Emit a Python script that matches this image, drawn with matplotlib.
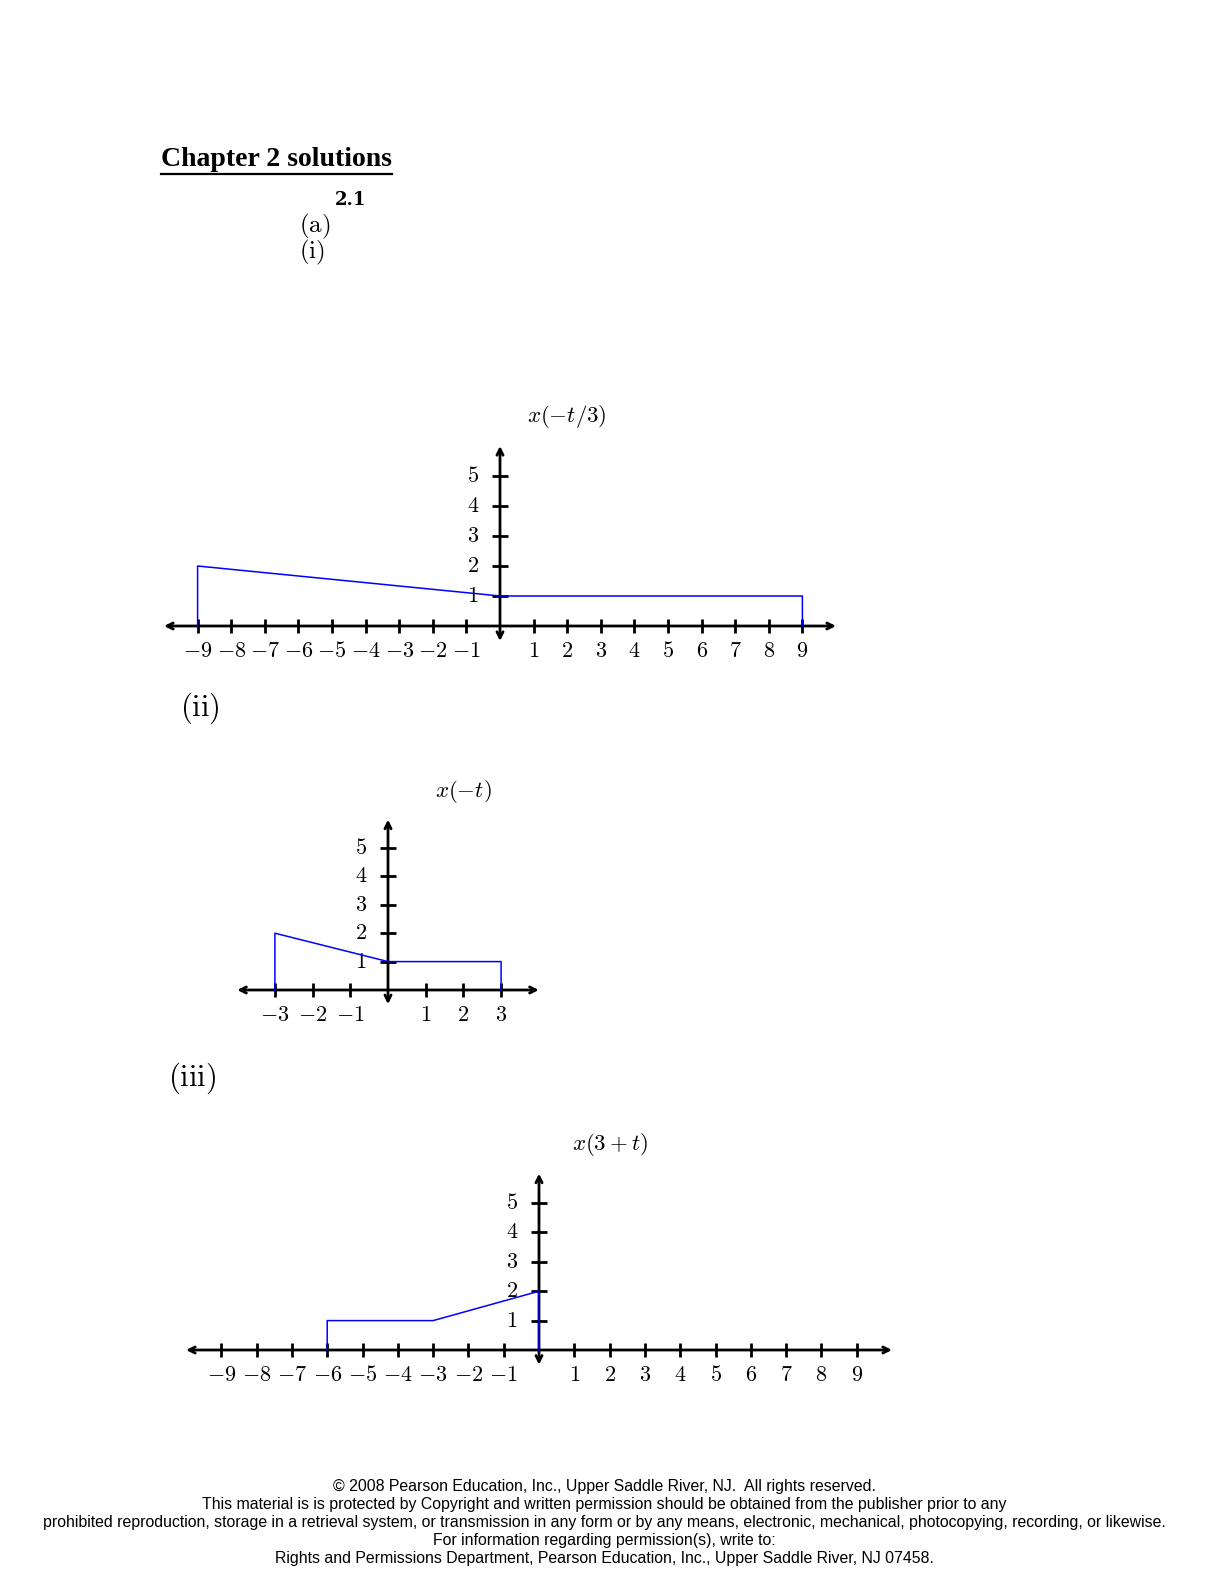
import numpy as np
import matplotlib.pyplot as plt
from matplotlib.lines import Line2D

plt.rcParams['mathtext.fontset'] = 'cm'

W, H = 1224, 1584

# x(-t/3)
t1 = [-9, -9, 0, 9, 9]
y1 = [0, 2, 1, 1, 0]
xt1 = [-9, -8, -7, -6, -5, -4, -3, -2, -1, 1, 2, 3, 4, 5, 6, 7, 8, 9]
# x(-t)
t2 = [-3, -3, 0, 3, 3]
y2 = [0, 2, 1, 1, 0]
xt2 = [-3, -2, -1, 1, 2, 3]
# x(3+t)
t3 = [-6, -6, -3, 0, 0]
y3 = [0, 1, 1, 2, 0]
xt3 = [-9, -8, -7, -6, -5, -4, -3, -2, -1, 1, 2, 3, 4, 5, 6, 7, 8, 9]
yt = [1, 2, 3, 4, 5]

footer = [
    '\u00a9 2008 Pearson Education, Inc., Upper Saddle River, NJ.  All rights reserved.',
    'This material is is protected by Copyright and written permission should be obtained from the publisher prior to any',
    'prohibited reproduction, storage in a retrieval system, or transmission in any form or by any means, electronic, mechanical, photocopying, recording, or likewise.',
    'For information regarding permission(s), write to:',
    'Rights and Permissions Department, Pearson Education, Inc., Upper Saddle River, NJ 07458.',
]

fig = plt.figure(figsize=(W / 100, H / 100), dpi=100)


def make_ax(ox, oy, ux, uy, xlim, ylim):
    left = (ox + xlim[0] * ux) / W
    width = (xlim[1] - xlim[0]) * ux / W
    bottom = 1 - (oy - ylim[0] * uy) / H
    height = (ylim[1] - ylim[0]) * uy / H
    ax = fig.add_axes([left, bottom, width, height])
    ax.set_xlim(xlim)
    ax.set_ylim(ylim)
    ax.axis('off')
    return ax


def draw(ax, ux, uy, t, y, xticks, xr, title):
    arr = dict(arrowstyle='<->', lw=2, color='k', shrinkA=0, shrinkB=0, mutation_scale=11)
    ax.annotate('', xy=(xr, 0), xytext=(-xr, 0), arrowprops=arr)
    ax.annotate('', xy=(0, 6), xytext=(0, -0.5), arrowprops=arr)
    ax.vlines(xticks, -7 / uy, 7 / uy, color='k', lw=2)
    ax.hlines(yt, -8 / ux, 8 / ux, color='k', lw=2)
    for x in xticks:
        ax.text(x, -25 / uy, '$%d$' % x, ha='center', va='center', fontsize=16)
    for v in yt:
        ax.text(-27 / ux, v, '$%d$' % v, ha='center', va='center', fontsize=16)
    ax.plot(t, y, color='#0000ff', lw=1.1, zorder=5)
    ax.text(2, 7, title, ha='center', va='center', fontsize=16.5)


ax1 = make_ax(500, 626, 33.6, 30, (-10.5, 10.5), (-1.5, 7.5))
draw(ax1, 33.6, 30, t1, y1, xt1, 10, r'$x(-t/3)$')

ax2 = make_ax(388, 990, 37.7, 28.4, (-4.5, 4.5), (-1.5, 7.5))
draw(ax2, 37.7, 28.4, t2, y2, xt2, 4, r'$x(-t)$')

ax3 = make_ax(539, 1350, 35.3, 29.4, (-10.5, 10.5), (-1.5, 7.5))
draw(ax3, 35.3, 29.4, t3, y3, xt3, 10, r'$x(3+t)$')

# header text
head = fig.text(161 / W, 1 - 160 / H, 'Chapter 2 solutions', family='Liberation Serif',
                weight='bold', fontsize=20, va='center', ha='left')
fig.text(335 / W, 1 - 200 / H, '2.1', family='DejaVu Serif', weight='bold',
         fontsize=13, va='center', ha='left')
fig.text(299 / W, 1 - 226 / H, r'$\mathrm{(a)}$', fontsize=18, va='center', ha='left')
fig.text(299 / W, 1 - 252 / H, r'$\mathrm{(i)}$', fontsize=18, va='center', ha='left')
fig.text(180 / W, 1 - 708 / H, r'$\mathrm{(ii)}$', fontsize=22, va='center', ha='left')
fig.text(168 / W, 1 - 1078 / H, r'$\mathrm{(iii)}$', fontsize=22, va='center', ha='left')

for i, line in enumerate(footer):
    fig.text(604 / W, 1 - (1487 + 18 * i) / H, line, family='Liberation Sans',
             fontsize=11.4, ha='center', va='center')

# underline the chapter heading
fig.canvas.draw()
bb = head.get_window_extent()
uy = 1 - 174 / H
fig.add_artist(Line2D([bb.x0 / W, bb.x1 / W], [uy, uy], color='k', lw=1.6))

fig.savefig('out.png', dpi=100)
